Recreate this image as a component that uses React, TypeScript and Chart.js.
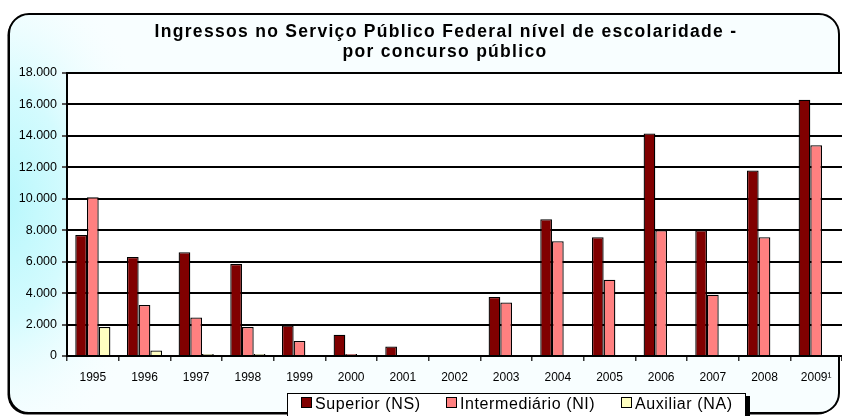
import React, { useEffect, useRef } from "react";
import { Chart, registerables } from "chart.js";

Chart.register(...registerables);

const categories = ["1995", "1996", "1997", "1998", "1999", "2000", "2001", "2002", "2003", "2004", "2005", "2006", "2007", "2008", "2009¹"];
const superiorNS = [7700, 6300, 6600, 5850, 1950, 1350, 600, 0, 3750, 8700, 7550, 14150, 8000, 11800, 16300];
const intermediarioNI = [10100, 3250, 2450, 1850, 950, 120, 0, 0, 3400, 7300, 4850, 8000, 3900, 7550, 13400];
const auxiliarNA = [1850, 350, 120, 120, 0, 0, 0, 0, 0, 0, 0, 0, 0, 0, 0];
const seriesNames = ["Superior (NS)", "Intermediário (NI)", "Auxiliar (NA)"];
const seriesColors = ["#800000", "#FF8080", "#FFFFC0"];
const titleLines = ["Ingressos no Serviço Público Federal nível de escolaridade -", "por concurso público"];
const yMax = 18000;
const yStep = 2000;

const FONT = "'Liberation Sans', Arial, sans-serif";

const fmtThousands = (v: number) => String(v).replace(/\B(?=(\d{3})+(?!\d))/g, ".");

function roundRectPath(ctx: CanvasRenderingContext2D, x0: number, y0: number, x1: number, y1: number, r: number) {
  ctx.beginPath();
  ctx.moveTo(x0 + r, y0);
  ctx.lineTo(x1 - r, y0);
  ctx.arcTo(x1, y0, x1, y0 + r, r);
  ctx.lineTo(x1, y1 - r);
  ctx.arcTo(x1, y1, x1 - r, y1, r);
  ctx.lineTo(x0 + r, y1);
  ctx.arcTo(x0, y1, x0, y1 - r, r);
  ctx.lineTo(x0, y0 + r);
  ctx.arcTo(x0, y0, x0 + r, y0, r);
  ctx.closePath();
}

const backgroundPlugin = {
  id: "excelBackground",
  beforeDraw(chart: any) {
    const ctx: CanvasRenderingContext2D = chart.ctx;
    const { left, top, right, bottom } = chart.chartArea;
    const x0 = 9, y0 = 14, x1 = 839, y1 = 413, r = 20;
    ctx.save();
    // shadow
    roundRectPath(ctx, x0 - 1.5, y0 + 1.5, x1 - 1.5, y1 + 1.5, r);
    ctx.fillStyle = "#000";
    ctx.fill();
    // base fill
    roundRectPath(ctx, x0, y0, x1, y1, r);
    ctx.fillStyle = "#f8feff";
    ctx.fill();
    // gradient
    ctx.save();
    roundRectPath(ctx, x0, y0, x1, y1, r);
    ctx.clip();
    ctx.translate(0, 205);
    ctx.scale(1, 1.6);
    const g = ctx.createRadialGradient(0, 0, 0, 0, 0, 160);
    g.addColorStop(0, "#b6f7fc");
    g.addColorStop(0.45, "#d4fbfe");
    g.addColorStop(1, "rgba(248,254,255,0)");
    ctx.fillStyle = g;
    ctx.fillRect(-10, -200, 300, 400);
    ctx.restore();
    // border
    roundRectPath(ctx, x0, y0, x1, y1, r);
    ctx.strokeStyle = "#000";
    ctx.lineWidth = 2;
    ctx.stroke();
    // plot area
    ctx.fillStyle = "#ffffff";
    ctx.fillRect(left, top, right - left, bottom - top);
    ctx.restore();
  },
  afterDraw(chart: any) {
    const ctx: CanvasRenderingContext2D = chart.ctx;
    ctx.save();
    // title
    (ctx as any).letterSpacing = "1.3px";
    ctx.fillStyle = "#000";
    ctx.font = `bold 17.5px ${FONT}`;
    ctx.textAlign = "center";
    ctx.textBaseline = "alphabetic";
    ctx.fillText(titleLines[0], 446, 37);
    ctx.fillText(titleLines[1], 445, 57);

    // legend
    const bx0 = 287, by0 = 393, bx1 = 745, by1 = 420;
    ctx.fillStyle = "#000";
    ctx.fillRect(bx1, by0 + 3, 5, by1 - by0);
    ctx.fillStyle = "#fff";
    ctx.fillRect(bx0, by0, bx1 - bx0, by1 - by0);
    ctx.strokeStyle = "#000";
    ctx.lineWidth = 1;
    ctx.strokeRect(bx0 + 0.5, by0 + 0.5, bx1 - bx0, by1 - by0);
    const itemX = [301, 446, 621];
    ctx.font = `16px ${FONT}`;
    (ctx as any).letterSpacing = "0.6px";
    ctx.textAlign = "left";
    for (let i = 0; i < seriesNames.length; i++) {
      const sx = itemX[i];
      ctx.fillStyle = seriesColors[i];
      ctx.fillRect(sx, 397, 11, 11);
      ctx.strokeStyle = "#000";
      ctx.strokeRect(sx + 0.5, 397.5, 10, 10);
      ctx.fillStyle = "#000";
      ctx.fillText(seriesNames[i], sx + 14, 408.5);
    }
    ctx.restore();
  },
};

export default function App() {
  const canvasRef = useRef<HTMLCanvasElement | null>(null);

  useEffect(() => {
    document.body.style.margin = "0";
    const canvas = canvasRef.current;
    if (!canvas) return;
    const datasets = [superiorNS, intermediarioNI, auxiliarNA].map((data, i) => ({
      label: seriesNames[i],
      data,
      backgroundColor: seriesColors[i],
      borderColor: "#000",
      borderWidth: 1.3,
      categoryPercentage: 0.68,
      barPercentage: 1.0,
    }));
    const chart = new Chart(canvas, {
      type: "bar",
      data: { labels: categories, datasets },
      plugins: [backgroundPlugin],
      options: {
        animation: false,
        responsive: false,
        devicePixelRatio: 1,
        layout: { padding: { top: 73, left: 0, right: 0, bottom: 30 } },
        plugins: {
          legend: { display: false },
          title: { display: false },
          tooltip: { enabled: false },
        },
        scales: {
          x: {
            offset: true,
            grid: {
              display: true,
              offset: true,
              drawOnChartArea: false,
              drawTicks: true,
              tickLength: 5,
              color: "#000",
              tickColor: "#333",
              lineWidth: 1.5,
            },
            border: { display: true, color: "#000", width: 2 },
            ticks: {
              color: "#000",
              font: { family: FONT, size: 12 },
              padding: 9,
              maxRotation: 0,
              autoSkip: false,
            },
            afterFit: (s: any) => {
              s.height = 30;
            },
          },
          y: {
            min: 0,
            max: yMax,
            ticks: {
              stepSize: yStep,
              color: "#000",
              font: { family: FONT, size: 12.5 },
              padding: 5,
              callback: (v: any) => fmtThousands(Number(v)),
            },
            grid: {
              color: "#000",
              lineWidth: 2,
              drawTicks: true,
              tickLength: 5,
              tickColor: "#555",
              tickWidth: 2,
            },
            border: { display: true, color: "#000", width: 2 },
            afterFit: (s: any) => {
              s.width = 67;
            },
          },
        },
      },
    });
    return () => chart.destroy();
  }, []);

  return (
    <div style={{ width: 842, height: 416, position: "relative" }}>
      <canvas ref={canvasRef} width={842} height={416} style={{ display: "block" }} />
    </div>
  );
}
